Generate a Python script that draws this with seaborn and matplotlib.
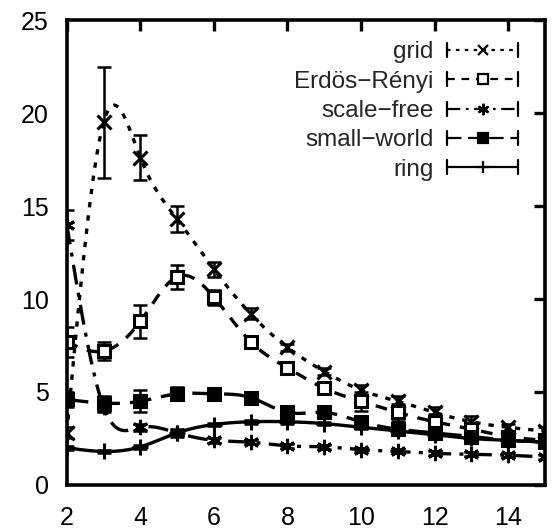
import numpy as np
import matplotlib
matplotlib.use("Agg")
import matplotlib.pyplot as plt
import seaborn as sns
from matplotlib.lines import Line2D
from matplotlib.legend_handler import HandlerBase

sns.set_theme(style="white")
plt.rcParams['font.family'] = ['Liberation Sans', 'DejaVu Sans']

# ---- data ----
x = [2, 3, 4, 5, 6, 7, 8, 9, 10, 11, 12, 13, 14, 15]
grid_y = [2.8, 19.5, 17.6, 14.3, 11.6, 9.2, 7.4, 6.1, 5.1, 4.5, 3.9, 3.4, 3.1, 2.9]
grid_err = [0.3, 3.0, 1.2, 0.7, 0.4, 0.3, 0.2, 0.2, 0.3, 0.3, 0.3, 0.3, 0.2, 0.2]
er_y = [7.7, 7.2, 8.8, 11.2, 10.1, 7.7, 6.3, 5.2, 4.5, 3.9, 3.4, 3.0, 2.6, 2.4]
er_err = [0.8, 0.5, 0.9, 0.65, 0.4, 0.3, 0.25, 0.2, 0.5, 0.45, 0.4, 0.35, 0.3, 0.2]
sf_y = [14.0, 4.2, 3.1, 2.8, 2.4, 2.3, 2.1, 2.05, 1.9, 1.8, 1.7, 1.65, 1.6, 1.5]
sf_err = [0.8, 0.3, 0.2, 0.2, 0.15, 0.1, 0.1, 0.1, 0.1, 0.1, 0.1, 0.1, 0.1, 0.1]
sw_y = [4.6, 4.4, 4.5, 4.9, 4.9, 4.7, 3.9, 3.9, 3.4, 3.0, 2.8, 2.6, 2.4, 2.3]
sw_err = [0.4, 0.4, 0.6, 0.35, 0.25, 0.25, 0.2, 0.2, 0.25, 0.2, 0.2, 0.2, 0.2, 0.2]
ring_y = [2.0, 1.8, 2.05, 2.8, 3.25, 3.4, 3.4, 3.3, 3.1, 2.9, 2.7, 2.5, 2.4, 2.3]
ring_err = [0.1, 0.1, 0.1, 0.1, 0.1, 0.1, 0.1, 0.1, 0.1, 0.1, 0.1, 0.1, 0.1, 0.1]
labels = ["grid", "Erdös\u2212Rényi", "scale\u2212free", "small\u2212world", "ring"]
x_ticks = [2, 4, 6, 8, 10, 12, 14]
y_ticks = [0, 5, 10, 15, 20, 25]


def natural_spline(xs, ys, n=400):
    xs = np.asarray(xs, float)
    ys = np.asarray(ys, float)
    k = len(xs)
    h = np.diff(xs)
    A = np.zeros((k, k))
    b = np.zeros(k)
    A[0, 0] = A[-1, -1] = 1.0
    for i in range(1, k - 1):
        A[i, i - 1] = h[i - 1]
        A[i, i] = 2 * (h[i - 1] + h[i])
        A[i, i + 1] = h[i]
        b[i] = 6 * ((ys[i + 1] - ys[i]) / h[i] - (ys[i] - ys[i - 1]) / h[i - 1])
    M = np.linalg.solve(A, b)
    xx = np.linspace(xs[0], xs[-1], n)
    idx = np.clip(np.searchsorted(xs, xx) - 1, 0, k - 2)
    x0, x1 = xs[idx], xs[idx + 1]
    hh = x1 - x0
    t0 = x1 - xx
    t1 = xx - x0
    yy = (M[idx] * t0 ** 3 + M[idx + 1] * t1 ** 3) / (6 * hh) \
        + (ys[idx] / hh - M[idx] * hh / 6) * t0 \
        + (ys[idx + 1] / hh - M[idx + 1] * hh / 6) * t1
    return xx, yy


series = [
    dict(y=grid_y, e=grid_err, ls=(0, (1.6, 2.4)), marker="x", mfc="black", ms=10),
    dict(y=er_y, e=er_err, ls=(0, (3.5, 3.0)), marker="s", mfc="white", ms=9),
    dict(y=sf_y, e=sf_err, ls=(0, (6, 2.5, 1.2, 2.5)), marker=(6, 2, 0), mfc="black", ms=11),
    dict(y=sw_y, e=sw_err, ls=(0, (6.5, 3.0)), marker="s", mfc="black", ms=9),
    dict(y=ring_y, e=ring_err, ls="-", marker="+", mfc="black", ms=12),
]

fig = plt.figure(figsize=(5.52, 5.30), dpi=100)
ax = fig.add_axes([0.121, 0.085, 0.866, 0.877])
lw = 2.4

for s, lab in zip(series, labels):
    xx, yy = natural_spline(x, s["y"])
    sns.lineplot(x=xx, y=yy, ax=ax, color="black", lw=lw, linestyle=s["ls"],
                 estimator=None, sort=False, clip_on=True)
    ax.errorbar(x, s["y"], yerr=s["e"], fmt="none", ecolor="black",
                elinewidth=1.8, capsize=5, capthick=1.8, clip_on=True)
    ax.plot(x, s["y"], linestyle="none", marker=s["marker"], color="black",
            mfc=s["mfc"], mec="black", mew=2.2, ms=s["ms"], clip_on=True)

ax.set_xlim(2, 15)
ax.set_ylim(0, 25)
ax.set_xticks(x_ticks)
ax.set_yticks(y_ticks)
ax.tick_params(direction="in", length=8, width=2.4, top=True, right=True,
               labelsize=18, colors="black")
ax.tick_params(axis="x", pad=15)
ax.tick_params(axis="y", pad=13)
for sp in ax.spines.values():
    sp.set_linewidth(2.6)
    sp.set_color("black")


class ErrLineHandler(HandlerBase):
    def __init__(self, ls, marker, mfc, ms):
        super().__init__()
        self.ls, self.marker, self.mfc, self.ms = ls, marker, mfc, ms

    def create_artists(self, legend, orig_handle, xdescent, ydescent, width,
                       height, fontsize, trans):
        y0 = height / 2 - ydescent
        xs = -xdescent
        xe = -xdescent + width
        line = Line2D([xs, xe], [y0, y0], color="black", lw=1.6,
                      linestyle=self.ls, transform=trans)
        c1 = Line2D([xs, xs], [y0 - 5, y0 + 5], color="black", lw=1.6, transform=trans)
        c2 = Line2D([xe, xe], [y0 - 5, y0 + 5], color="black", lw=1.6, transform=trans)
        mk = Line2D([(xs + xe) / 2], [y0], marker=self.marker, color="black",
                    mfc=self.mfc, mec="black", mew=1.6, ms=self.ms * 0.75,
                    linestyle="none", transform=trans)
        return [line, c1, c2, mk]


handles = [Line2D([], []) for _ in labels]
hmap = {h: ErrLineHandler(s["ls"], s["marker"], s["mfc"], s["ms"]) for h, s in zip(handles, series)}
leg = ax.legend(handles, labels, handler_map=hmap, loc="upper right",
                bbox_to_anchor=(0.965, 0.975), frameon=False, markerfirst=False,
                fontsize=17.5, handlelength=2.95, handletextpad=0.55, labelspacing=0.3,
                borderaxespad=0)

fig.savefig("out.png", dpi=100)
